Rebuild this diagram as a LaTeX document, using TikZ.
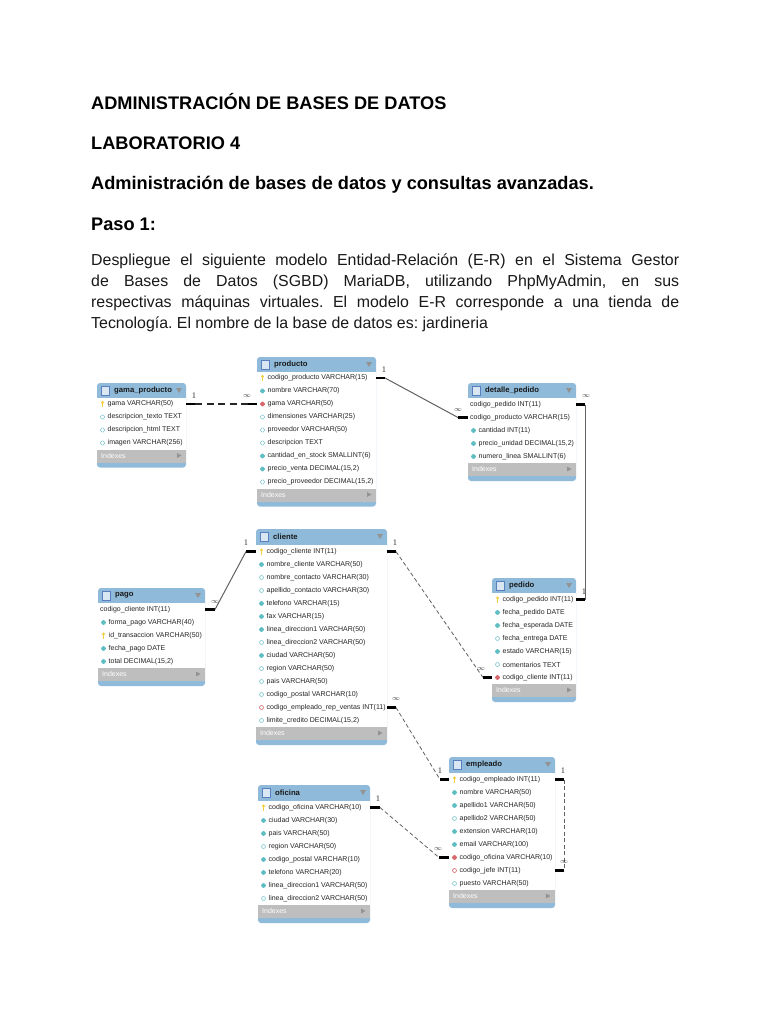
\documentclass[tikz,border=0pt]{standalone}
\usepackage{fontspec}
\setmainfont{Liberation Sans}
\newfontfamily\serifnum{Liberation Serif}
\usetikzlibrary{shapes.geometric,calc}
\definecolor{hdr}{HTML}{8FBAD9}
\definecolor{idx}{HTML}{BEBEBE}
\definecolor{teal}{HTML}{5FBDC4}
\definecolor{redk}{HTML}{D9686E}
\definecolor{keyy}{HTML}{F2CE3C}
\definecolor{rowtx}{HTML}{262626}
\definecolor{tblicon}{HTML}{5A7FC0}
\tikzset{
  heading/.style={anchor=base west,inner sep=0pt,font=\bfseries\fontsize{18.2}{21}\selectfont,text=black},
  bodytext/.style={anchor=north west,inner sep=0pt,text width=588pt,align=justify,font=\fontsize{15.9}{21}\selectfont\frenchspacing,text=black!90},
  rowlabel/.style={anchor=west,inner sep=0pt,font=\fontsize{7}{8}\selectfont,text=rowtx},
  titlelabel/.style={anchor=west,inner sep=0pt,font=\bfseries\fontsize{7.7}{9}\selectfont,text=black!90},
  idxlabel/.style={anchor=west,inner sep=0pt,font=\fontsize{7}{8}\selectfont,text=white},
  stub/.style={line width=2.2pt,black},
  solidlink/.style={line width=1pt,black!62},
  dashlink/.style={line width=0.8pt,black!62,dash pattern=on 4pt off 2.5pt},
  heavydash/.style={line width=1.3pt,black!85,dash pattern=on 7pt off 4.5pt},
  onelabel/.style={inner sep=0pt,font=\serifnum\fontsize{8.5}{9}\selectfont,text=black!80},
  manylabel/.style={inner sep=0pt,font=\fontsize{7}{8}\selectfont,text=black!80},
}
\newcommand{\iconk}[1]{\fill[keyy] ($(#1)+(0,-1.6)$) circle (1.6);\fill[keyy] ($(#1)+(-.7,-1.6)$) rectangle ($(#1)+(.7,3)$);}
\newcommand{\iconf}[1]{\fill[teal,rounded corners=.6pt] (#1) ++(-2.9,0) -- ++(2.9,2.9) -- ++(2.9,-2.9) -- ++(-2.9,-2.9) -- cycle;}
\newcommand{\icono}[1]{\draw[teal!80!white,line width=.5pt,fill=white,rounded corners=.6pt] (#1) ++(-2.5,0) -- ++(2.5,2.5) -- ++(2.5,-2.5) -- ++(-2.5,-2.5) -- cycle;}
\newcommand{\iconr}[1]{\fill[redk,rounded corners=.6pt] (#1) ++(-2.9,0) -- ++(2.9,2.9) -- ++(2.9,-2.9) -- ++(-2.9,-2.9) -- cycle;}
\newcommand{\iconw}[1]{\draw[redk,line width=.5pt,fill=white,rounded corners=.6pt] (#1) ++(-2.5,0) -- ++(2.5,2.5) -- ++(2.5,-2.5) -- ++(-2.5,-2.5) -- cycle;}
% name, left, top, right, header bottom, title, rows
\newcommand{\ertable}[7]{%
  \pgfmathsetmacro{\xl}{#2}\pgfmathsetmacro{\xr}{#4}\pgfmathsetmacro{\yt}{#3}\pgfmathsetmacro{\yh}{#5}%
  \foreach \ic/\tx [count=\n] in {#7} {\global\let\lastn\n}%
  \pgfmathsetmacro{\yw}{\yh+13*\lastn}%
  \pgfmathsetmacro{\yg}{\yw+13}%
  \pgfmathsetmacro{\yb}{\yg+5}%
  \fill[hdr,rounded corners=3pt] (\xl,\yt) rectangle (\xr,\yb);
  \fill[white] (\xl,\yh) rectangle (\xr,\yw);
  \fill[idx] (\xl,\yw) rectangle (\xr,\yg);
  \filldraw[fill=hdr!35!white,draw=tblicon,line width=.6pt] (\xl+4,\yt+3.5) rectangle (\xl+12.5,\yt+12);
  \fill[gray!85] (\xr-10,\yt+5) -- (\xr-4,\yt+5) -- (\xr-7,\yt+10) -- cycle;
  \node[titlelabel] (#1-title) at (\xl+17,\yt+7.7) {#6};
  \node[idxlabel] (#1-idx) at (\xl+4,\yw+6) {Indexes};
  \fill[gray!85] (\xr-9,\yw+3.5) -- (\xr-9,\yw+8.5) -- (\xr-4.5,\yw+6) -- cycle;
  \foreach \ic/\tx [count=\n] in {#7} {
    \pgfmathsetmacro{\yr}{\yh+13*\n-6.5}
    \coordinate (#1-w\n) at (\xl,\yr);
    \coordinate (#1-e\n) at (\xr,\yr);
    \if n\ic
      \node[rowlabel] (#1-r\n) at (\xl+2,\yr) {\tx};
    \else
      \csname icon\ic\endcsname{\xl+5.5,\yr}
      \node[rowlabel] (#1-r\n) at (\xl+10.5,\yr) {\tx};
    \fi
  }
}
\begin{document}
\begin{tikzpicture}[x=1pt,y=-1pt]
\useasboundingbox (0,0) rectangle (768,1024);
\fill[white] (0,0) rectangle (768,1024);
\node[heading] (h1) at (91,110) {ADMINISTRACIÓN DE BASES DE DATOS};
\node[heading] (h2) at (91,150) {LABORATORIO 4};
\node[heading] (h3) at (91,190) {Administración de bases de datos y consultas avanzadas.};
\node[heading] (h4) at (91,230) {Paso 1:};
\node[bodytext] (body) at (91,253.5) {Despliegue el siguiente modelo Entidad-Relación (E-R) en el Sistema Gestor\linebreak de Bases de Datos (SGBD) MariaDB, utilizando PhpMyAdmin, en sus\linebreak respectivas máquinas virtuales. El modelo E-R corresponde a una tienda de\linebreak Tecnología. El nombre de la base de datos es: jardineria};

\ertable{gama}{97}{383}{186}{397.5}{gama\_producto}{k/{gama VARCHAR(50)},o/{descripcion\_texto TEXT},o/{descripcion\_html TEXT},o/{imagen VARCHAR(256)}}
\ertable{producto}{257}{357}{376}{371.5}{producto}{k/{codigo\_producto VARCHAR(15)},f/{nombre VARCHAR(70)},r/{gama VARCHAR(50)},o/{dimensiones VARCHAR(25)},o/{proveedor VARCHAR(50)},o/{descripcion TEXT},f/{cantidad\_en\_stock SMALLINT(6)},f/{precio\_venta DECIMAL(15,2)},o/{precio\_proveedor DECIMAL(15,2)}}
\ertable{detalle}{468}{383}{576}{398}{detalle\_pedido}{n/{codigo\_pedido INT(11)},n/{codigo\_producto VARCHAR(15)},f/{cantidad INT(11)},f/{precio\_unidad DECIMAL(15,2)},f/{numero\_linea SMALLINT(6)}}
\ertable{pedido}{492}{578}{576}{593}{pedido}{k/{codigo\_pedido INT(11)},f/{fecha\_pedido DATE},f/{fecha\_esperada DATE},o/{fecha\_entrega DATE},f/{estado VARCHAR(15)},o/{comentarios TEXT},r/{codigo\_cliente INT(11)}}
\ertable{pago}{98}{588}{205}{603}{pago}{n/{codigo\_cliente INT(11)},f/{forma\_pago VARCHAR(40)},k/{id\_transaccion VARCHAR(50)},f/{fecha\_pago DATE},f/{total DECIMAL(15,2)}}
\ertable{cliente}{256}{529}{387}{545}{cliente}{k/{codigo\_cliente INT(11)},f/{nombre\_cliente VARCHAR(50)},o/{nombre\_contacto VARCHAR(30)},o/{apellido\_contacto VARCHAR(30)},f/{telefono VARCHAR(15)},f/{fax VARCHAR(15)},f/{linea\_direccion1 VARCHAR(50)},o/{linea\_direccion2 VARCHAR(50)},f/{ciudad VARCHAR(50)},o/{region VARCHAR(50)},o/{pais VARCHAR(50)},o/{codigo\_postal VARCHAR(10)},w/{codigo\_empleado\_rep\_ventas INT(11)},o/{limite\_credito DECIMAL(15,2)}}
\ertable{oficina}{258}{785}{370}{801}{oficina}{k/{codigo\_oficina VARCHAR(10)},f/{ciudad VARCHAR(30)},f/{pais VARCHAR(50)},o/{region VARCHAR(50)},f/{codigo\_postal VARCHAR(10)},f/{telefono VARCHAR(20)},f/{linea\_direccion1 VARCHAR(50)},o/{linea\_direccion2 VARCHAR(50)}}
\ertable{empleado}{449}{757}{555}{773}{empleado}{k/{codigo\_empleado INT(11)},f/{nombre VARCHAR(50)},f/{apellido1 VARCHAR(50)},o/{apellido2 VARCHAR(50)},f/{extension VARCHAR(10)},f/{email VARCHAR(100)},r/{codigo\_oficina VARCHAR(10)},w/{codigo\_jefe INT(11)},o/{puesto VARCHAR(50)}}

% connectors
\draw[stub] (gama-e1) -- ++(9,0) coordinate (c1a);
\draw[stub] (producto-w3) -- ++(-9,0) coordinate (c1b);
\draw[heavydash] (c1a) -- (c1b);
\node[onelabel] (l1a) at (194,396) {1};
\node[manylabel] (m1b) at (247,396) {$\infty$};

\draw[stub] (producto-e1) -- ++(9,0) coordinate (c2a);
\draw[stub] (detalle-w2) -- ++(-10,0) coordinate (c2b);
\draw[solidlink] (c2a) -- (c2b);
\node[onelabel] (l2a) at (384,370) {1};
\node[manylabel] (m2b) at (458,410) {$\infty$};

\draw[stub] (detalle-e1) -- ++(9,0) coordinate (c3a);
\draw[stub] (pedido-e1) -- ++(9,0) coordinate (c3b);
\draw[solidlink] (c3a) -- (c3b);
\node[manylabel] (m3a) at (586,396) {$\infty$};
\node[onelabel] (l3b) at (584,592) {1};

\draw[stub] (cliente-e1) -- ++(9,0) coordinate (c4a);
\draw[stub] (pedido-w7) -- ++(-9,0) coordinate (c4b);
\draw[dashlink] (c4a) -- (c4b);
\node[onelabel] (l4a) at (395,543) {1};
\node[manylabel] (m4b) at (481,669) {$\infty$};

\draw[stub] (pago-e1) -- ++(10,0) coordinate (c5a);
\draw[stub] (cliente-w1) -- ++(-10,0) coordinate (c5b);
\draw[solidlink] (c5a) -- (c5b);
\node[manylabel] (m5a) at (215,602) {$\infty$};
\node[onelabel] (l5b) at (246,543) {1};

\draw[stub] (cliente-e13) -- ++(9,0) coordinate (c6a);
\draw[stub] (empleado-w1) -- ++(-9,0) coordinate (c6b);
\draw[dashlink] (c6a) -- (c6b);
\node[manylabel] (m6a) at (396,699) {$\infty$};
\node[onelabel] (l6b) at (440,771) {1};

\draw[stub] (oficina-e1) -- ++(10,0) coordinate (c7a);
\draw[stub] (empleado-w7) -- ++(-10,0) coordinate (c7b);
\draw[dashlink] (c7a) -- (c7b);
\node[onelabel] (l7a) at (378,799) {1};
\node[manylabel] (m7b) at (438,849) {$\infty$};

\draw[stub] (empleado-e1) -- ++(9,0) coordinate (c8a);
\draw[stub] (empleado-e8) -- ++(9,0) coordinate (c8b);
\draw[dashlink] (c8a) -- (c8b);
\node[onelabel] (l8a) at (563,771) {1};
\node[manylabel] (m8b) at (564,862) {$\infty$};
\end{tikzpicture}
\end{document}
